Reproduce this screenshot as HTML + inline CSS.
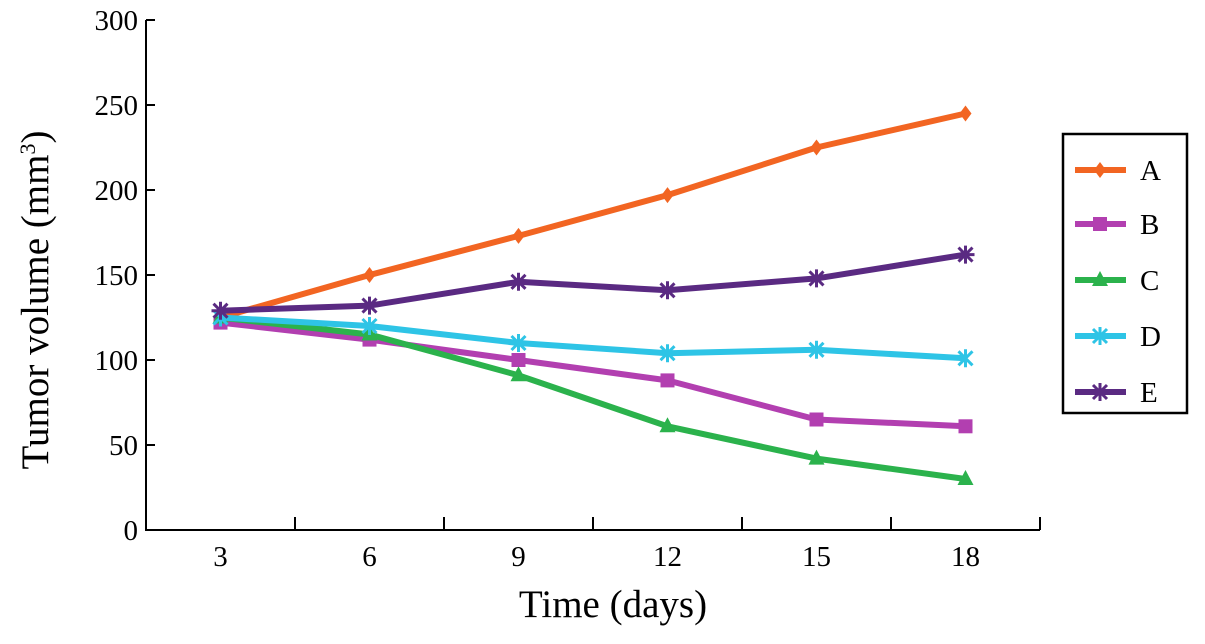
<!DOCTYPE html>
<html><head><meta charset="utf-8"><style>
body{margin:0;background:#fff;}
svg text{font-family:"Liberation Serif",serif;fill:#000;}
</style></head><body>
<svg id="chart" width="1205" height="639" viewBox="0 0 1205 639"></svg>
<script>
const days=[3,6,9,12,15,18];
const yTicks=[0,50,100,150,200,250,300];
const xTickPos=[4.5,7.5,10.5,13.5,16.5,19.5];
const seriesNames=['A','B','C','D','E'];
const seriesA=[125,150,173,197,225,245];
const seriesB=[122,112,100,88,65,61];
const seriesC=[125,115,91,61,42,30];
const seriesD=[125,120,110,104,106,101];
const seriesE=[129,132,146,141,148,162];
const colors=['#f26522','#b23fb0','#2bb24c','#2ec4e6','#5a2a82'];
const markers=['diamond','square','triangle','x','star'];
const all=[seriesA,seriesB,seriesC,seriesD,seriesE];
const NS='http://www.w3.org/2000/svg';
const svg=document.getElementById('chart');
const X0=146,X1=1040,Y0=530,Y1=20;
const xs=d=>X0+(d-1.5)*(X1-X0)/18;
const ys=v=>Y0-v*(Y0-Y1)/300;
function mk(tag,attrs,parent){const e=document.createElementNS(NS,tag);for(const k in attrs)e.setAttribute(k,attrs[k]);(parent||svg).appendChild(e);return e;}
let ax=mk('path',{d:`M${X0},${Y1} V${Y0} H${X1}`,stroke:'#000','stroke-width':2,fill:'none'});


yTicks.forEach(v=>{
 let t=mk('line',{x1:X0,x2:X0+9,y1:ys(v),y2:ys(v),stroke:'#000','stroke-width':2});
 
 
 let l=mk('text',{x:X0-8,y:ys(v)+10,'text-anchor':'end','font-size':29});l.textContent=v;
 
 
});
xTickPos.forEach(d=>{
 let t=mk('line',{x1:xs(d),x2:xs(d),y1:Y0,y2:Y0-13,stroke:'#000','stroke-width':2});
 
 
});
days.forEach(d=>{
 let l=mk('text',{x:xs(d),y:566,'text-anchor':'middle','font-size':29});l.textContent=d;
 
 
});
let xt=mk('text',{x:613,y:617,'text-anchor':'middle','font-size':39});xt.textContent='Time (days)';


let yt=mk('text',{x:0,y:0,'text-anchor':'middle','font-size':39,transform:'translate(48,300) rotate(-90)'});
yt.innerHTML='Tumor volume (mm<tspan font-size="22" dy="-13">3</tspan><tspan dy="13">)</tspan>';


function marker(type,x,y,c,g){
 if(type==='diamond')return mk('path',{d:`M${x},${y-8}L${x+6},${y}L${x},${y+8}L${x-6},${y}Z`,fill:c},g);
 if(type==='square')return mk('rect',{x:x-7,y:y-7,width:14,height:14,fill:c},g);
 if(type==='triangle')return mk('path',{d:`M${x},${y-9}L${x+8},${y+6}L${x-8},${y+6}Z`,fill:c},g);
 if(type==='x')return mk('path',{d:`M${x-7},${y-7}L${x+7},${y+7}M${x+7},${y-7}L${x-7},${y+7}M${x},${y-9}V${y+9}`,stroke:c,'stroke-width':3},g);
 return mk('path',{d:`M${x-7},${y-7}L${x+7},${y+7}M${x+7},${y-7}L${x-7},${y+7}M${x},${y-9}V${y+9}M${x-9},${y}H${x+9}`,stroke:c,'stroke-width':3},g);
}
all.forEach((s,i)=>{
 const g=mk('g',{});
 
 
 let p=mk('polyline',{points:s.map((v,j)=>xs(days[j])+','+ys(v)).join(' '),stroke:colors[i],'stroke-width':6,fill:'none','stroke-linejoin':'round'},g);
 
 
 s.forEach((v,j)=>{let m=marker(markers[i],xs(days[j]),ys(v),colors[i],g);
  
  });
});
const lg=mk('g',{});


mk('rect',{x:1063,y:134,width:124,height:279,fill:'#fff',stroke:'#000','stroke-width':2.5},lg);
const ly=[170,224,280,336,392];
seriesNames.forEach((n,i)=>{
 const e=mk('g',{},lg);
 
 
 mk('line',{x1:1075,x2:1126,y1:ly[i],y2:ly[i],stroke:colors[i],'stroke-width':6},e);
 marker(markers[i],1100,ly[i],colors[i],e);
 let t=mk('text',{x:1140,y:ly[i]+10,'font-size':29},e);t.textContent=n;
});
</script>
</body></html>
